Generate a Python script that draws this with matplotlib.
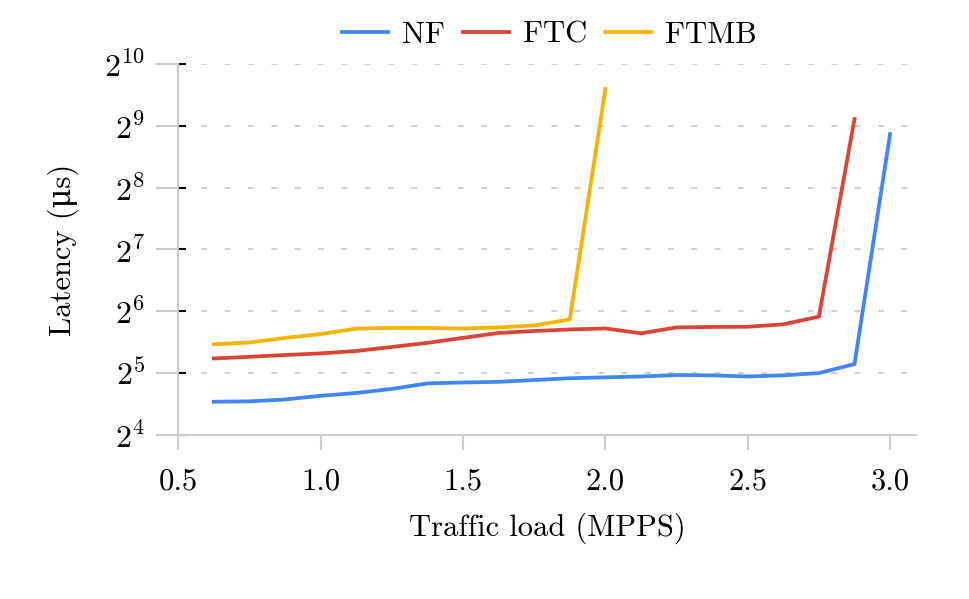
import numpy as np
import matplotlib
matplotlib.use('Agg')
import matplotlib.pyplot as plt
from matplotlib.ticker import FixedLocator, NullFormatter

plt.rcParams['font.family'] = ['cmr10', 'DejaVu Serif']
plt.rcParams['mathtext.fontset'] = 'cm'
plt.rcParams['axes.formatter.use_mathtext'] = True

# Traffic load (MPPS)
load = [0.625, 0.75, 0.875, 1.0, 1.125, 1.25, 1.375, 1.5, 1.625, 1.75,
        1.875, 2.0, 2.125, 2.25, 2.375, 2.5, 2.625, 2.75, 2.875, 3.0]

# latency in us
nf = [23.2, 23.3, 23.8, 24.8, 25.6, 26.8, 28.5, 28.8, 29.0, 29.6,
      30.2, 30.5, 30.8, 31.3, 31.2, 30.8, 31.2, 32.0, 35.4, 467]
ftc = [37.7, 38.4, 39.2, 39.9, 41.0, 42.9, 44.9, 47.5, 50.2, 51.3,
       52.2, 52.8, 50.0, 53.4, 53.7, 53.8, 55.3, 60.3, 553]
ftmb = [44.2, 45.1, 47.5, 49.6, 52.7, 53.1, 53.1, 52.7, 53.4, 54.6,
        58.4, 774]

x_ticks = [0.5, 1.0, 1.5, 2.0, 2.5, 3.0]
x_labels = ['0.5', '1.0', '1.5', '2.0', '2.5', '3.0']
y_exp = [4, 5, 6, 7, 8, 9, 10]

grid_c = '#cccccc'

fig = plt.figure(figsize=(9.69, 5.99), dpi=100)
ax = fig.add_axes([0.184, 0.274, 0.761, 0.619])

ax.plot(load[:len(nf)], nf, color='#4285F4', lw=2.7, label='NF')
ax.plot(load[:len(ftc)], ftc, color='#DB4437', lw=2.7, label='FTC')
ax.plot(load[:len(ftmb)], ftmb, color='#F4B400', lw=2.7, label='FTMB')

ax.set_yscale('log', base=2)
ax.set_ylim(2 ** 4, 2 ** 10)
ax.set_xlim(0.5, 3.09)

yt = [2.0 ** e for e in y_exp]
ax.yaxis.set_major_locator(FixedLocator(yt))
ax.yaxis.set_minor_locator(FixedLocator(yt))
ax.yaxis.set_minor_formatter(NullFormatter())
ax.yaxis.remove_overlapping_locs = False
ax.set_yticklabels([f'$2^{{{e}}}$' for e in y_exp])
ax.tick_params(axis='y', which='major', direction='in', length=6, width=1.5,
               color='black', pad=24, labelsize=23)
ax.tick_params(axis='y', which='minor', direction='out', length=16, width=1.5,
               color=grid_c)

ax.set_xticks(x_ticks)
ax.set_xticklabels(x_labels)
ax.tick_params(axis='x', direction='out', length=11, width=1.5, color=grid_c,
               pad=13, labelsize=22)

for e in y_exp[1:]:
    ax.axhline(2.0 ** e, color='#d0d0d0', lw=1.4, ls=(0, (3, 9)), zorder=0)

for s in ['top', 'right']:
    ax.spines[s].set_visible(False)
for s in ['left', 'bottom']:
    ax.spines[s].set_color(grid_c)
    ax.spines[s].set_linewidth(1.5)

ax.set_xlabel('Traffic load (MPPS)', fontsize=22, labelpad=12)
ax.set_ylabel('Latency (μs)', fontsize=22, labelpad=18)

fig.legend(loc='upper center', bbox_to_anchor=(0.567, 1.01), ncol=3,
           frameon=False, fontsize=22, handlelength=1.5, columnspacing=0.6,
           handletextpad=0.45)

fig.savefig('out.png', dpi=100)
